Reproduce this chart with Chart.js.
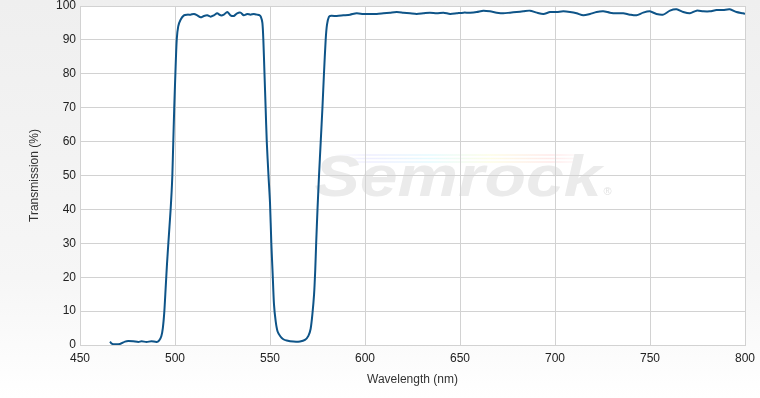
<!DOCTYPE html>
<html>
<head>
<meta charset="utf-8">
<script src="https://cdn.jsdelivr.net/npm/chart.js@4.4.1/dist/chart.umd.min.js"></script>
<style>
  html, body { margin: 0; padding: 0; }
  body { width: 760px; height: 398px; background: linear-gradient(to bottom, #efefef 0%, #f6f6f6 70%, #ffffff 100%); }
  #wrap { width: 760px; height: 398px; position: relative; }
</style>
</head>
<body>
<div id="wrap"><canvas id="c" width="760" height="398"></canvas></div>
<script>
// ---- data ----
const wavelengths = [
  465.8, 466.7, 468.4, 471.0, 473.7, 475.4, 478.0, 480.7, 482.4, 485.0, 487.6, 490.3, 491.6, 492.8,
  493.6, 494.4, 495.1, 495.8, 496.5, 497.1, 497.7, 498.2, 498.6, 499.1, 499.6, 500.2, 500.9, 501.7, 503.0,
  504.7, 506.5, 508.2, 510.0, 511.7, 513.5, 515.2, 517.0, 518.7, 520.5, 522.2, 524.0, 525.7, 527.5,
  529.2, 531.0, 532.7, 534.5, 536.2, 538.0, 539.7, 541.5, 543.2, 544.4, 545.2,
  546.0, 546.5, 547.1, 547.7, 548.3, 549.2, 550.0, 550.7, 551.4, 552.1, 553.0, 554.0, 555.5, 557.0,
  558.8, 562.3, 565.8, 568.4, 570.2, 571.4, 572.3, 573.2, 573.8, 574.3, 575.0, 575.8, 576.7, 577.6,
  578.4, 579.3, 580.0, 581.0, 582.2,
  585.1, 588.6, 592.1, 595.6, 599.1, 602.7, 606.2, 609.7, 613.2, 616.7, 620.2, 623.7, 627.2, 630.7,
  634.2, 637.8, 641.3, 644.8, 648.3, 651.8, 655.3, 658.8, 662.3, 665.8, 669.3, 672.8, 676.3, 679.8,
  683.3, 686.8, 690.4, 693.9, 697.4, 700.9, 704.4, 707.9, 711.4, 714.9, 718.4, 721.9, 725.4, 728.9,
  732.4, 735.9, 739.4, 742.9, 746.4, 749.9, 753.4, 757.0, 760.5, 764.0, 767.5, 771.0, 774.5, 778.0,
  781.5, 785.0, 788.5, 792.0, 795.5, 799.0, 800.0
];
const transmission = [
  1.0, 0.4, 0.2, 0.3, 1.0, 1.2, 1.1, 0.9, 1.1, 0.9, 1.1, 0.9, 1.3, 2.6,
  5.0, 10, 17, 24, 30, 35, 40, 45, 50, 60, 70, 80, 90, 94, 96,
  97.25, 97.45, 97.45, 97.65, 97.25, 96.66, 97.06, 97.25, 96.86, 97.25, 97.84, 97.25, 97.45, 98.24,
  97.25, 97.06, 97.84, 98.04, 97.25, 97.65, 97.45, 97.65, 97.45, 97.3, 96.8,
  95, 90, 80, 70, 60, 50, 42, 30, 21, 12, 7, 4, 2.5, 1.7,
  1.3, 1.0, 1.05, 1.5, 2.7, 4.8, 9, 15, 22, 30, 40, 50, 60, 70,
  80, 90, 94.5, 96.8, 97.1,
  97.05, 97.25, 97.45, 97.84, 97.64, 97.64, 97.64, 97.84, 98.04, 98.23, 98.04, 97.84, 97.64, 97.84,
  98.04, 97.84, 98.04, 97.64, 97.84, 98.04, 98.04, 98.23, 98.63, 98.43, 98.04, 97.84, 98.04, 98.23,
  98.43, 98.63, 98.04, 97.64, 98.23, 98.23, 98.43, 98.23, 97.84, 97.25, 97.64, 98.23, 98.43, 98.04,
  97.84, 97.84, 97.45, 97.25, 98.04, 98.43, 97.64, 97.45, 98.63, 99.02, 98.23, 97.84, 98.63, 98.43,
  98.43, 98.82, 98.82, 99.02, 98.23, 97.84, 97.7
];
const xTickMin = 450, xTickMax = 800, xTickStep = 50;
const yTickMin = 0, yTickMax = 100, yTickStep = 10;
const xTitle = 'Wavelength (nm)';
const yTitle = 'Transmission (%)';
const watermark = 'Semrock';

const points = wavelengths.map((w, i) => ({ x: w, y: transmission[i] }));

const bgPlugin = {
  id: 'plotBg',
  beforeDraw(chart) {
    const { ctx, chartArea: a } = chart;
    ctx.save();
    ctx.fillStyle = '#ffffff';
    ctx.fillRect(a.left, a.top, a.right - a.left, a.bottom - a.top);
    // watermark logo
    const cx = 458;
    const base = 196;
    ctx.font = 'italic bold 58px "Liberation Sans", Arial, sans-serif';
    const w = ctx.measureText(watermark).width;
    const targetW = 287;
    const sx = targetW / w;
    // rainbow swooshes
    const gx0 = cx - 125, gx1 = cx + 117;
    const grad = ctx.createLinearGradient(gx0, 0, gx1, 0);
    grad.addColorStop(0, 'rgba(200,200,255,0.0)');
    grad.addColorStop(0.15, 'rgba(200,200,255,0.3)');
    grad.addColorStop(0.4, 'rgba(190,245,255,0.4)');
    grad.addColorStop(0.65, 'rgba(250,250,190,0.4)');
    grad.addColorStop(0.9, 'rgba(255,200,200,0.4)');
    grad.addColorStop(1, 'rgba(255,200,200,0.15)');
    ctx.strokeStyle = grad;
    ctx.lineWidth = 1.5;
    [-41, -37.5, -34].forEach(dy => {
      ctx.beginPath();
      ctx.moveTo(gx0, base + dy);
      ctx.lineTo(gx1, base + dy);
      ctx.stroke();
    });
    ctx.translate(cx, base);
    ctx.scale(sx, 1);
    ctx.fillStyle = '#ebebeb';
    ctx.textAlign = 'center';
    ctx.textBaseline = 'alphabetic';
    ctx.fillText(watermark, 0, 0);
    ctx.setTransform(1, 0, 0, 1, 0, 0);
    ctx.font = '11px "Liberation Sans", Arial, sans-serif';
    ctx.fillStyle = '#e2e2e2';
    ctx.textAlign = 'left';
    ctx.fillText('\u00AE', cx + targetW / 2 + 2, base - 1);
    ctx.restore();
  }
};

new Chart(document.getElementById('c'), {
  type: 'line',
  data: {
    datasets: [{
      data: points,
      borderColor: '#0e5488',
      borderWidth: 2,
      pointRadius: 0,
      fill: false,
      tension: 0.25
    }]
  },
  options: {
    responsive: false,
    animation: false,
    devicePixelRatio: 1,
    layout: { padding: { top: 6, right: 15, bottom: 0, left: 0 } },
    plugins: { legend: { display: false }, tooltip: { enabled: false } },
    scales: {
      x: {
        type: 'linear',
        min: xTickMin, max: xTickMax,
        ticks: { stepSize: xTickStep, padding: 8, color: '#222', font: { family: '"Liberation Sans", Arial, sans-serif', size: 12, lineHeight: 1 }, maxRotation: 0 },
        grid: { color: '#d2d2d2', drawTicks: false },
        border: { color: '#d2d2d2' },
        title: { display: true, text: xTitle, color: '#333', font: { family: '"Liberation Sans", Arial, sans-serif', size: 12, lineHeight: 1.2 }, padding: { top: 0, bottom: 10.8 } },
        afterFit(s) { s.height = 53; s.paddingLeft = 0; s.paddingRight = 0; }
      },
      y: {
        min: yTickMin, max: yTickMax,
        ticks: { stepSize: yTickStep, padding: 4, color: '#222', font: { family: '"Liberation Sans", Arial, sans-serif', size: 12, lineHeight: 1 } },
        grid: { color: '#d2d2d2', drawTicks: false },
        border: { color: '#d2d2d2' },
        title: { display: true, text: yTitle, color: '#333', font: { family: '"Liberation Sans", Arial, sans-serif', size: 12, lineHeight: 1.2 }, padding: { top: 27.8, bottom: 0 } },
        afterFit(s) { s.width = 80; s.paddingTop = 0; s.paddingBottom = 0; }
      }
    }
  },
  plugins: [bgPlugin]
});
</script>
</body>
</html>
